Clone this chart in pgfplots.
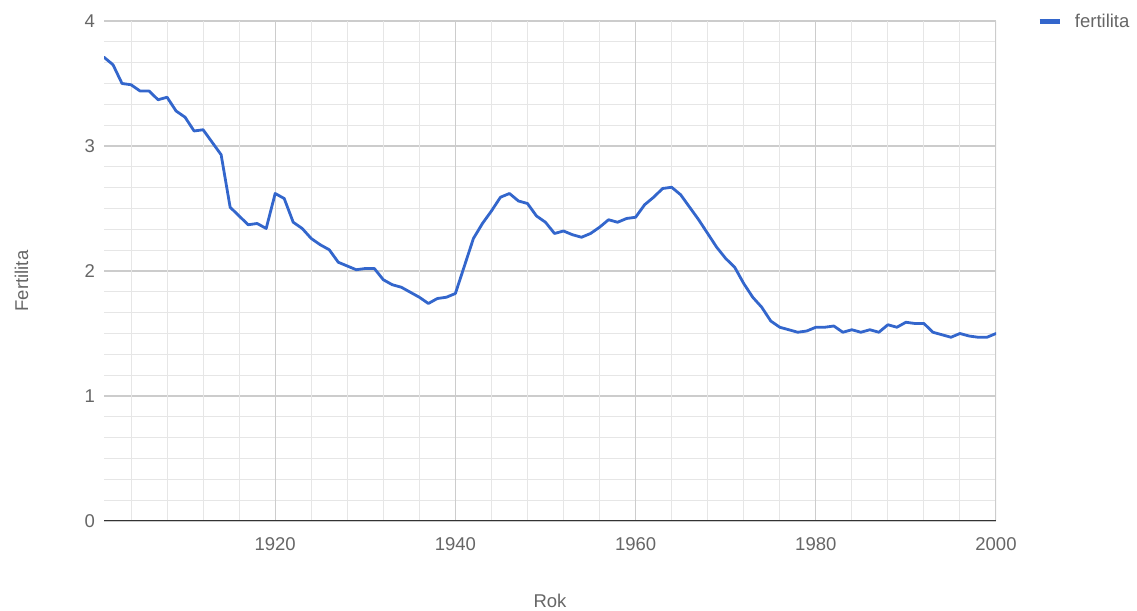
\documentclass[border=0pt]{standalone}
\usepackage{pgfplots}
\pgfplotsset{compat=1.18}
\usepackage{fontspec}
\setmainfont{Liberation Sans}
\definecolor{linecol}{HTML}{3366CC}
\definecolor{txtcol}{HTML}{666666}
\definecolor{majgrid}{HTML}{CCCCCC}
\definecolor{mingrid}{HTML}{E6E6E6}
\definecolor{basecol}{HTML}{333333}
\begin{document}
\begin{tikzpicture}[x=1pt,y=1pt]
\path[use as bounding box] (0,0) rectangle (1137,610);
\begin{axis}[
  at={(104pt,89pt)}, anchor=south west,
  width=892pt, height=500pt, scale only axis,
  xmin=1901, xmax=2000, ymin=0, ymax=4,
  xtick={1920,1940,1960,1980,2000},
  ytick={0,1,2,3,4},
  minor y tick num=5,
  xmajorgrids=false, xminorgrids=false, ymajorgrids=true, yminorgrids=true,
  major grid style={color=majgrid, line width=1.2pt},
  minor grid style={color=mingrid, line width=1pt},
  extra x ticks={1904,1908,1912,1916,1924,1928,1932,1936,1944,1948,1952,1956,1964,1968,1972,1976,1984,1988,1992,1996},
  extra x tick labels={},
  extra x tick style={xmajorgrids=true, major grid style={color=mingrid, line width=1pt}},
  axis line style={draw=none},
  tick style={draw=none},
  major tick length=0pt, minor tick length=0pt,
  scaled ticks=false,
  /pgf/number format/1000 sep={},
  /pgf/number format/assume math mode=true,
  tick label style={font=\fontsize{18.5}{18.5}\selectfont, text=txtcol},
  yticklabel style={inner sep=0pt, anchor=east, xshift=-9pt},
  xticklabel style={inner sep=0pt, anchor=north, yshift=-16.5pt},
  legend style={at={(1.046,0.998)}, anchor=west, draw=none, fill=none,
    inner sep=0pt, outer sep=0pt, font=\fontsize{18.5}{18.5}\selectfont,
    text=txtcol, nodes={inner sep=0pt}},
  legend image code/.code={\draw[#1, line width=5pt, line cap=butt] (0pt,0pt) -- (20pt,0pt); \path (34pt,0pt);},
]
\addplot[color=majgrid, line width=1.2pt, forget plot] coordinates {(1920,0) (1920,4)};
\addplot[color=majgrid, line width=1.2pt, forget plot] coordinates {(1940,0) (1940,4)};
\addplot[color=majgrid, line width=1.2pt, forget plot] coordinates {(1960,0) (1960,4)};
\addplot[color=majgrid, line width=1.2pt, forget plot] coordinates {(1980,0) (1980,4)};
\addplot[color=majgrid, line width=1.2pt, forget plot] coordinates {(2000,0) (2000,4)};
\addplot[color=linecol, line width=2.8pt, line join=round, line cap=round] table {
1901 3.71
1902 3.65
1903 3.50
1904 3.49
1905 3.44
1906 3.44
1907 3.37
1908 3.39
1909 3.28
1910 3.23
1911 3.12
1912 3.13
1913 3.03
1914 2.93
1915 2.51
1916 2.44
1917 2.37
1918 2.38
1919 2.34
1920 2.62
1921 2.58
1922 2.39
1923 2.34
1924 2.26
1925 2.21
1926 2.17
1927 2.07
1928 2.04
1929 2.01
1930 2.02
1931 2.02
1932 1.93
1933 1.89
1934 1.87
1935 1.83
1936 1.79
1937 1.74
1938 1.78
1939 1.79
1940 1.82
1941 2.04
1942 2.26
1943 2.38
1944 2.48
1945 2.59
1946 2.62
1947 2.56
1948 2.54
1949 2.44
1950 2.39
1951 2.30
1952 2.32
1953 2.29
1954 2.27
1955 2.30
1956 2.35
1957 2.41
1958 2.39
1959 2.42
1960 2.43
1961 2.53
1962 2.59
1963 2.66
1964 2.67
1965 2.61
1966 2.51
1967 2.41
1968 2.30
1969 2.19
1970 2.10
1971 2.03
1972 1.90
1973 1.79
1974 1.71
1975 1.60
1976 1.55
1977 1.53
1978 1.51
1979 1.52
1980 1.55
1981 1.55
1982 1.56
1983 1.51
1984 1.53
1985 1.51
1986 1.53
1987 1.51
1988 1.57
1989 1.55
1990 1.59
1991 1.58
1992 1.58
1993 1.51
1994 1.49
1995 1.47
1996 1.50
1997 1.48
1998 1.47
1999 1.47
2000 1.50
};
\addlegendentry{fertilita}
\draw[basecol, line width=1.5pt] (axis cs:1901,0) -- (axis cs:2000,0);
\end{axis}
\node[anchor=base, font=\fontsize{18.5}{18.5}\selectfont, text=txtcol] at (550,2) {Rok};
\node[anchor=base, rotate=90, font=\fontsize{18.5}{18.5}\selectfont, text=txtcol] at (28,329) {Fertilita};
\end{tikzpicture}
\end{document}
